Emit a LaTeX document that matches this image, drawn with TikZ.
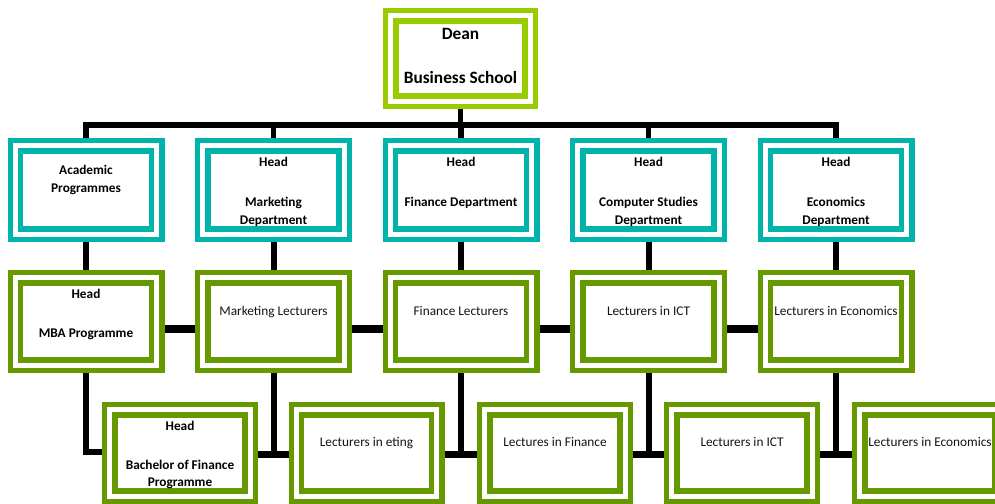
\documentclass[tikz,border=0pt]{standalone}
\usepackage{fontspec}
\setmainfont{Carlito}
\usetikzlibrary{backgrounds}
\definecolor{deangreen}{RGB}{153,204,0}
\definecolor{tealbox}{RGB}{0,180,172}
\definecolor{olivebox}{RGB}{102,153,0}
\begin{document}
\begin{tikzpicture}[x=1pt,y=-1pt,
  dbox/.style={draw=#1, double=white, double distance=5pt, line width=5.3pt, fill=white, inner sep=0pt},
  deanbox/.style={dbox=deangreen, minimum width=139.4pt, minimum height=85.4pt},
  rowone/.style={dbox=tealbox, minimum width=141.4pt, minimum height=88.4pt},
  rowtwo/.style={dbox=olivebox, minimum width=141.4pt, minimum height=87.4pt},
  rowthree/.style={dbox=olivebox, minimum width=140.4pt, minimum height=86.4pt},
  conn/.style={line width=6pt, black, line join=miter},
  busline/.style={line width=5.5pt, black, line join=miter},
  hconn/.style={line width=7.5pt, black},
  btxt/.style={font=\bfseries\fontsize{13.3}{18}\selectfont, anchor=base, inner sep=0pt},
  bigtxt/.style={font=\bfseries\fontsize{17.3}{22}\selectfont, anchor=base, inner sep=0pt},
  rtxt/.style={font=\fontsize{13.3}{18}\selectfont, anchor=base, inner sep=0pt, text=black!92}]
\useasboundingbox (0,0) rectangle (995,503);
\clip (0,0) rectangle (995,503);

% boxes
\node[deanbox] (dean) at (460.5,58.5) {};
\node[rowone] (a1) at (86,190) {};
\node[rowone] (a2) at (273.5,190) {};
\node[rowone] (a3) at (461,190) {};
\node[rowone] (a4) at (648.5,190) {};
\node[rowone] (a5) at (836,190) {};
\node[rowtwo] (b1) at (86,321.5) {};
\node[rowtwo] (b2) at (273.5,321.5) {};
\node[rowtwo] (b3) at (461,321.5) {};
\node[rowtwo] (b4) at (648.5,321.5) {};
\node[rowtwo] (b5) at (836,321.5) {};
\node[rowthree] (c1) at (180,453) {};
\node[rowthree] (c2) at (366.5,453) {};
\node[rowthree] (c3) at (555,453) {};
\node[rowthree] (c4) at (742,453) {};
\node[rowthree] (c5) at (930,453) {};

% levels of connector lines
\coordinate (bus) at (0,125);
\coordinate (hrow2) at (0,329);
\coordinate (hrow3) at (0,454.3);
\coordinate (hleft) at (0,452);

\begin{scope}[on background layer]
  \draw[busline] (dean.south) -- (dean.south |- bus);
  \draw[busline] (a1.north) -- (a1.north |- bus) -- (a5.north |- bus) -- (a5.north);
  \foreach \n in {a2,a3,a4} \draw[busline] (\n.north) -- (\n.north |- bus);
  \foreach \i in {1,...,5} \draw[conn] (a\i.south) -- (b\i.north);
  \draw[hconn] (b1.east |- hrow2) -- (b2.west |- hrow2);
  \draw[hconn] (b2.east |- hrow2) -- (b3.west |- hrow2);
  \draw[hconn] (b3.east |- hrow2) -- (b4.west |- hrow2);
  \draw[hconn] (b4.east |- hrow2) -- (b5.west |- hrow2);
  \draw[conn] (b1.south) -- (b1.south |- hleft) -- (c1.west |- hleft);
  \draw[hconn] (c1.east |- hrow3) -- (c2.west |- hrow3);
  \draw[hconn] (c2.east |- hrow3) -- (c3.west |- hrow3);
  \draw[hconn] (c3.east |- hrow3) -- (c4.west |- hrow3);
  \draw[hconn] (c4.east |- hrow3) -- (c5.west |- hrow3);
  \draw[conn] (b2.south) -- (b2.south |- hrow3);
  \draw[conn] (b3.south) -- (b3.south |- hrow3);
  \draw[conn] (b4.south) -- (b4.south |- hrow3);
  \draw[conn] (b5.south) -- (b5.south |- hrow3);
\end{scope}

% texts
\node[bigtxt] (tdean1) at (460.5,39.5) {Dean};
\node[bigtxt] (tdean2) at (460.5,83.5) {Business School};

\node[btxt] (ta1a) at (86,174.3) {Academic};
\node[btxt] (ta1b) at (86,192.3) {Programmes};
\node[btxt] (ta2a) at (273.5,166.3) {Head};
\node[btxt] (ta2b) at (273.5,206.3) {Marketing};
\node[btxt] (ta2c) at (273.5,224.3) {Department};
\node[btxt] (ta3a) at (461,166.3) {Head};
\node[btxt] (ta3b) at (461,206.3) {Finance Department};
\node[btxt] (ta4a) at (648.5,166.3) {Head};
\node[btxt] (ta4b) at (648.5,206.3) {Computer Studies};
\node[btxt] (ta4c) at (648.5,224.3) {Department};
\node[btxt] (ta5a) at (836,166.3) {Head};
\node[btxt] (ta5b) at (836,206.3) {Economics};
\node[btxt] (ta5c) at (836,224.3) {Department};

\node[btxt] (tb1a) at (86,298.3) {Head};
\node[btxt] (tb1b) at (86,337.3) {MBA Programme};
\node[rtxt] (tb2) at (273.5,315.5) {Marketing Lecturers};
\node[rtxt] (tb3) at (461,315.5) {Finance Lecturers};
\node[rtxt] (tb4) at (648.5,315.5) {Lecturers in ICT};
\node[rtxt] (tb5) at (836,315.5) {Lecturers in Economics};

\node[btxt] (tc1a) at (180,430.3) {Head};
\node[btxt] (tc1b) at (180,469.3) {Bachelor of Finance};
\node[btxt] (tc1c) at (180,486.3) {Programme};
\node[rtxt] (tc2) at (366.5,446.3) {Lecturers in eting};
\node[rtxt] (tc3) at (555,446.3) {Lectures in Finance};
\node[rtxt] (tc4) at (742,446.3) {Lecturers in ICT};
\node[rtxt] (tc5) at (930,446.3) {Lecturers in Economics};
\end{tikzpicture}
\end{document}
